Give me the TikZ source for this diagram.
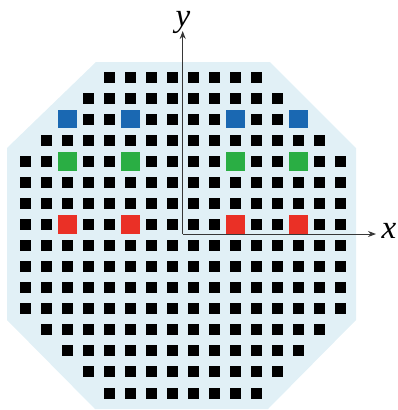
\documentclass[tikz,border=0pt]{standalone}
\usepackage{fontspec}
\setmainfont{Liberation Serif}
\usetikzlibrary{arrows.meta}
\definecolor{bgblue}{RGB}{225,240,246}
\definecolor{sqblue}{RGB}{26,104,178}
\definecolor{sqgreen}{RGB}{42,174,68}
\definecolor{sqred}{RGB}{234,48,38}
\definecolor{axisgray}{RGB}{55,55,55}
\tikzset{
  blk/.style={fill=black},
  axisline/.style={draw=axisgray, line width=1pt},
  axislabel/.style={font=\fontsize{33}{37}\selectfont\itshape, inner sep=0pt}
}
\begin{document}
\begin{tikzpicture}[x=1pt,y=-1pt]
\useasboundingbox (0,0) rectangle (398,410);
\fill[bgblue] (96,62) -- (270,62) -- (356,148) -- (356,320) -- (268,409) -- (95,409) -- (7,320) -- (7,148) -- cycle;
\foreach \r in {0,...,15} {
  \pgfmathtruncatemacro\off{max(0,4-\r,\r-11)}
  \pgfmathtruncatemacro\last{15-\off}
  \foreach \k in {\off,...,\last} {
    \fill[blk] ({25.5+21*\k-5.5},{77+21.07*\r-5.5}) rectangle ++(11,11);
  }
}
\foreach \r/\c in {2/sqblue,4/sqgreen,7/sqred} {
  \foreach \k in {2,5,10,13} {
    \fill[\c] ({25.5+21*\k-9.3},{77+21.07*\r-9.3}) rectangle ++(18.6,18.6);
  }
}
\coordinate (o) at (182.7,234);
\coordinate (ytip) at (182.7,31);
\coordinate (xtip) at (376,234);
\draw[axisline,-{Stealth[length=8pt,width=6pt]}] (o) -- (ytip);
\draw[axisline,-{Stealth[length=8pt,width=6pt]}] (o) -- (xtip);
\node[axislabel] (ylab) at (183,22) {y};
\node[axislabel] (xlab) at (389,231) {x};
\end{tikzpicture}
\end{document}
